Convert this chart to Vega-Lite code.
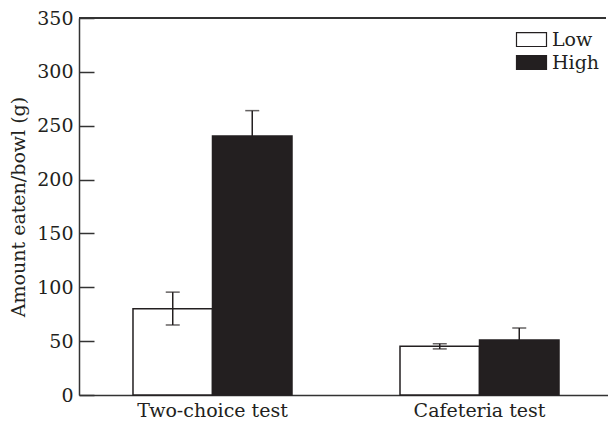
{
  "$schema": "https://vega.github.io/schema/vega-lite/v6.json",
  "width": 527,
  "height": 377,
  "autosize": {"type": "none"},
  "padding": {"left": 79, "top": 18, "right": 2, "bottom": 30},
  "background": "white",
  "config": {
    "view": {"stroke": null},
    "font": "DejaVu Serif",
    "axis": {"labelFont": "DejaVu Serif", "titleFont": "DejaVu Serif", "labelColor": "#231f20", "titleColor": "#231f20", "domainColor": "#333333", "tickColor": "#333333", "grid": false}
  },
  "data": {
    "values": [
      {"test": "Two-choice test", "group": "Low", "mean": 80, "lo": 65, "hi": 95.5},
      {"test": "Two-choice test", "group": "High", "mean": 240.5, "lo": 240.5, "hi": 264},
      {"test": "Cafeteria test", "group": "Low", "mean": 45.2, "lo": 42.8, "hi": 47.6},
      {"test": "Cafeteria test", "group": "High", "mean": 51, "lo": 51, "hi": 62.2}
    ]
  },
  "encoding": {
    "x": {
      "field": "test", "type": "nominal", "sort": ["Two-choice test", "Cafeteria test"],
      "scale": {"range": [0, 534], "paddingInner": 0.4045, "paddingOuter": 0.2022},
      "axis": {"title": null, "labelAngle": 0, "ticks": false, "labelFontSize": 19, "labelPadding": 6, "domainWidth": 1.5}
    },
    "xOffset": {"field": "group", "type": "nominal", "sort": ["Low", "High"], "scale": {"paddingInner": 0, "paddingOuter": 0}}
  },
  "layer": [
    {
      "mark": {"type": "bar", "stroke": "#231f20", "strokeWidth": 1.5},
      "encoding": {
        "y": {
          "field": "mean", "type": "quantitative",
          "scale": {"domain": [0, 350], "nice": false},
          "axis": {"title": "Amount eaten/bowl (g)", "values": [0, 50, 100, 150, 200, 250, 300, 350], "tickSize": -15, "tickWidth": 1.5, "domainWidth": 1.5, "labelFontSize": 19, "labelPadding": 21, "titleFontSize": 19, "titleFontWeight": "normal", "titlePadding": 8}
        },
        "fill": {
          "field": "group", "type": "nominal",
          "scale": {"domain": ["Low", "High"], "range": ["white", "#231f20"]},
          "legend": {
            "title": null, "orient": "none", "legendX": 443, "legendY": 12,
            "symbolType": "M-2,-0.93H2V0.93H-2Z", "symbolSize": 225, "symbolStrokeColor": "#231f20", "symbolStrokeWidth": 1.2,
            "labelFontSize": 19, "labelColor": "#231f20", "labelOffset": 11, "rowPadding": 3, "padding": 0, "labelFont": "DejaVu Serif"
          }
        }
      }
    },
    {
      "mark": {"type": "rule", "color": "#231f20", "strokeWidth": 1.5},
      "encoding": {
        "y": {"field": "lo", "type": "quantitative"},
        "y2": {"field": "hi"}
      }
    },
    {
      "mark": {"type": "tick", "color": "#231f20", "thickness": 1.5, "size": 14},
      "encoding": {
        "y": {"field": "hi", "type": "quantitative"}
      }
    },
    {
      "transform": [{"filter": "datum.group === 'Low'"}],
      "mark": {"type": "tick", "color": "#231f20", "thickness": 1.5, "size": 14},
      "encoding": {
        "y": {"field": "lo", "type": "quantitative"}
      }
    },
    {
      "mark": {"type": "rule", "color": "#333333", "strokeWidth": 1.5},
      "encoding": {"y": {"datum": 350, "type": "quantitative"}, "x": null, "xOffset": null}
    }
  ]
}
